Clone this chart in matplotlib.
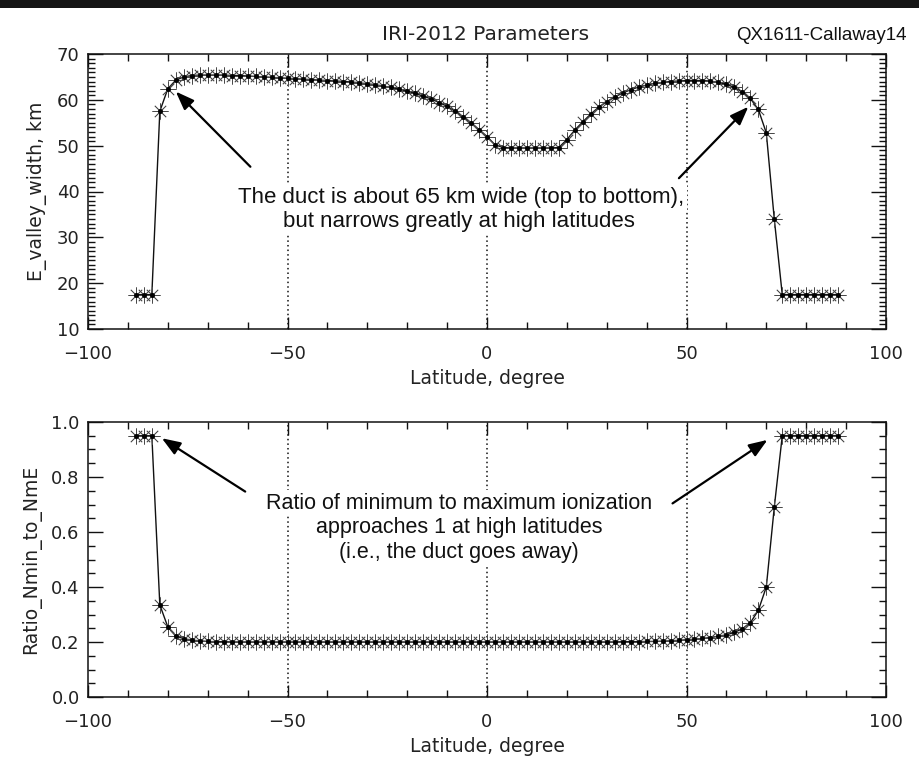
import matplotlib
matplotlib.use("Agg")
import matplotlib.pyplot as plt
from matplotlib.patches import Rectangle
from matplotlib.ticker import MultipleLocator, FormatStrFormatter

# Latitude grid (degrees)
latitude = [
    -88, -86, -84, -82, -80, -78, -76, -74, -72, -70,
    -68, -66, -64, -62, -60, -58, -56, -54, -52, -50,
    -48, -46, -44, -42, -40, -38, -36, -34, -32, -30,
    -28, -26, -24, -22, -20, -18, -16, -14, -12, -10,
    -8, -6, -4, -2, 0, 2, 4, 6, 8, 10,
    12, 14, 16, 18, 20, 22, 24, 26, 28, 30,
    32, 34, 36, 38, 40, 42, 44, 46, 48, 50,
    52, 54, 56, 58, 60, 62, 64, 66, 68, 70,
    72, 74, 76, 78, 80, 82, 84, 86, 88,
]

# E-valley width (km)
e_valley_width = [
    17.5, 17.5, 17.5, 57.5, 62.4, 64.3, 65.0, 65.3, 65.4, 65.4,
    65.4, 65.4, 65.3, 65.3, 65.2, 65.1, 65.0, 64.9, 64.8, 64.7,
    64.6, 64.5, 64.4, 64.3, 64.2, 64.1, 64.0, 63.9, 63.7, 63.5,
    63.3, 63.0, 62.7, 62.3, 61.9, 61.4, 60.8, 60.2, 59.4, 58.6,
    57.5, 56.3, 55.0, 53.5, 52.0, 50.2, 49.6, 49.5, 49.5, 49.5,
    49.5, 49.5, 49.5, 49.6, 51.3, 53.4, 55.2, 56.9, 58.4, 59.6,
    60.6, 61.5, 62.2, 62.8, 63.2, 63.6, 63.8, 64.0, 64.1, 64.2,
    64.2, 64.2, 64.1, 63.8, 63.4, 62.7, 61.7, 60.3, 57.9, 52.8,
    34.0, 17.5, 17.5, 17.5, 17.5, 17.5, 17.5, 17.5, 17.5,
]

# Ratio of minimum to maximum E-region density
ratio_nmin_nme = [
    0.950, 0.950, 0.950, 0.335, 0.255, 0.222, 0.212, 0.207, 0.204, 0.202,
    0.201, 0.201, 0.200, 0.200, 0.200, 0.200, 0.200, 0.200, 0.200, 0.200,
    0.200, 0.200, 0.200, 0.200, 0.200, 0.200, 0.200, 0.200, 0.200, 0.200,
    0.200, 0.200, 0.200, 0.200, 0.200, 0.200, 0.200, 0.200, 0.200, 0.200,
    0.200, 0.200, 0.200, 0.200, 0.200, 0.200, 0.200, 0.200, 0.200, 0.200,
    0.200, 0.200, 0.200, 0.200, 0.200, 0.200, 0.200, 0.200, 0.200, 0.200,
    0.200, 0.201, 0.201, 0.201, 0.202, 0.202, 0.203, 0.204, 0.206, 0.208,
    0.210, 0.213, 0.216, 0.221, 0.226, 0.235, 0.248, 0.270, 0.315, 0.400,
    0.690, 0.950, 0.950, 0.950, 0.950, 0.950, 0.950, 0.950, 0.950,
]

x_major = [-100, -50, 0, 50, 100]
ref_lines = [-50, 0, 50]

W, H = 919, 775
fig = plt.figure(figsize=(W / 100, H / 100), dpi=100)
fig.patch.set_facecolor("white")

# dark band along the top edge
fig.add_artist(Rectangle((0, 1 - 8 / H), 1, 8 / H, transform=fig.transFigure,
                         facecolor="#151515", edgecolor="none"))

ax1 = fig.add_axes([88 / W, 1 - 329 / H, 798 / W, 275 / H])
ax2 = fig.add_axes([88 / W, 1 - 697 / H, 798 / W, 275 / H])

tick_font = dict(family="DejaVu Sans", size=13, color="#222222")
label_font = dict(family="DejaVu Sans", size=13.5, color="#222222")


def draw_series(ax, y):
    ax.plot(latitude, y, color="#111111", lw=1.0, zorder=3)
    ax.plot(latitude, y, ls="none", marker=(8, 2, 0), ms=11.5, mew=0.55,
            color="#4a4a4a", zorder=3)
    ax.plot(latitude, y, ls="none", marker="o", ms=2.6, color="#000000",
            zorder=4)


def style_axes(ax, ymin, ymax, ymajor, yminor, ylabel):
    ax.set_xlim(-100, 100)
    ax.set_ylim(ymin, ymax)
    ax.set_xticks(x_major)
    ax.xaxis.set_minor_locator(MultipleLocator(10))
    ax.yaxis.set_major_locator(MultipleLocator(ymajor))
    ax.yaxis.set_minor_locator(MultipleLocator(yminor))
    ax.tick_params(which="both", direction="in", top=True, right=True,
                   width=1.0, color="#111111")
    ax.tick_params(axis="x", which="major", length=9, pad=11.5)
    ax.tick_params(axis="x", which="minor", length=5)
    ax.tick_params(axis="y", which="major", length=11, pad=6)
    ax.tick_params(axis="y", which="minor", length=5)
    for lab in ax.get_xticklabels() + ax.get_yticklabels():
        lab.set_fontfamily(tick_font["family"])
        lab.set_fontsize(tick_font["size"])
        lab.set_color(tick_font["color"])
    for s in ax.spines.values():
        s.set_linewidth(1.1)
        s.set_color("#111111")
    ax.set_xlabel("Latitude, degree", labelpad=4, **label_font)
    ax.set_ylabel(ylabel, labelpad=7, **label_font)
    for xv in ref_lines:
        ax.axvline(xv, color="#111111", lw=1.1, ls=(0, (1, 2)), zorder=1)


box = dict(facecolor="white", edgecolor="none", pad=2)
arrow = dict(arrowstyle="-|>,head_length=0.8,head_width=0.3", color="black",
             lw=1.6, shrinkA=0, shrinkB=0, mutation_scale=14)

# Upper panel: E-valley width
draw_series(ax1, e_valley_width)
style_axes(ax1, 10, 70, 10, 1, "E_valley_width, km")
ax1.yaxis.set_major_formatter(FormatStrFormatter("%d"))

top_note = dict(family="Liberation Sans", size=16, color="#111111")
ax1.text(-6.5, 38.8, "The duct is about 65 km wide (top to bottom),",
         ha="center", va="center", bbox=box, zorder=5, **top_note)
ax1.text(-7, 33.4, "but narrows greatly at high latitudes",
         ha="center", va="center", bbox=box, zorder=5, **top_note)
ax1.annotate("", xy=(-78.0, 61.8), xytext=(-59.3, 45.4), arrowprops=arrow,
             zorder=6)
ax1.annotate("", xy=(65.5, 58.5), xytext=(48.1, 42.9), arrowprops=arrow,
             zorder=6)

# Lower panel: Nmin / NmE ratio
draw_series(ax2, ratio_nmin_nme)
style_axes(ax2, 0.0, 1.0, 0.2, 0.05, "Ratio_Nmin_to_NmE")
ax2.yaxis.set_major_formatter(FormatStrFormatter("%.1f"))

bottom_note = dict(family="Liberation Sans", size=15.5, color="#111111")
ax2.text(-7, 0.705, "Ratio of minimum to maximum ionization",
         ha="center", va="center", bbox=box, zorder=5, **bottom_note)
ax2.text(-7, 0.615, "approaches 1 at high latitudes",
         ha="center", va="center", bbox=box, zorder=5, **bottom_note)
ax2.text(-7, 0.524, "(i.e., the duct goes away)",
         ha="center", va="center", bbox=box, zorder=5, **bottom_note)
ax2.annotate("", xy=(-81.5, 0.941), xytext=(-60.6, 0.747), arrowprops=arrow,
             zorder=6)
ax2.annotate("", xy=(70.3, 0.935), xytext=(46.5, 0.704), arrowprops=arrow,
             zorder=6)

fig.text(486 / W, 1 - 35 / H, "IRI-2012 Parameters", ha="center", va="center",
         family="DejaVu Sans", size=14.5, color="#222222")
fig.text(821 / W, 1 - 35 / H, "QX1611-Callaway14", ha="center", va="center",
         family=["Liberation Sans Narrow", "Liberation Sans"], size=13.5,
         color="#111111")

fig.savefig("out.png", dpi=100)
